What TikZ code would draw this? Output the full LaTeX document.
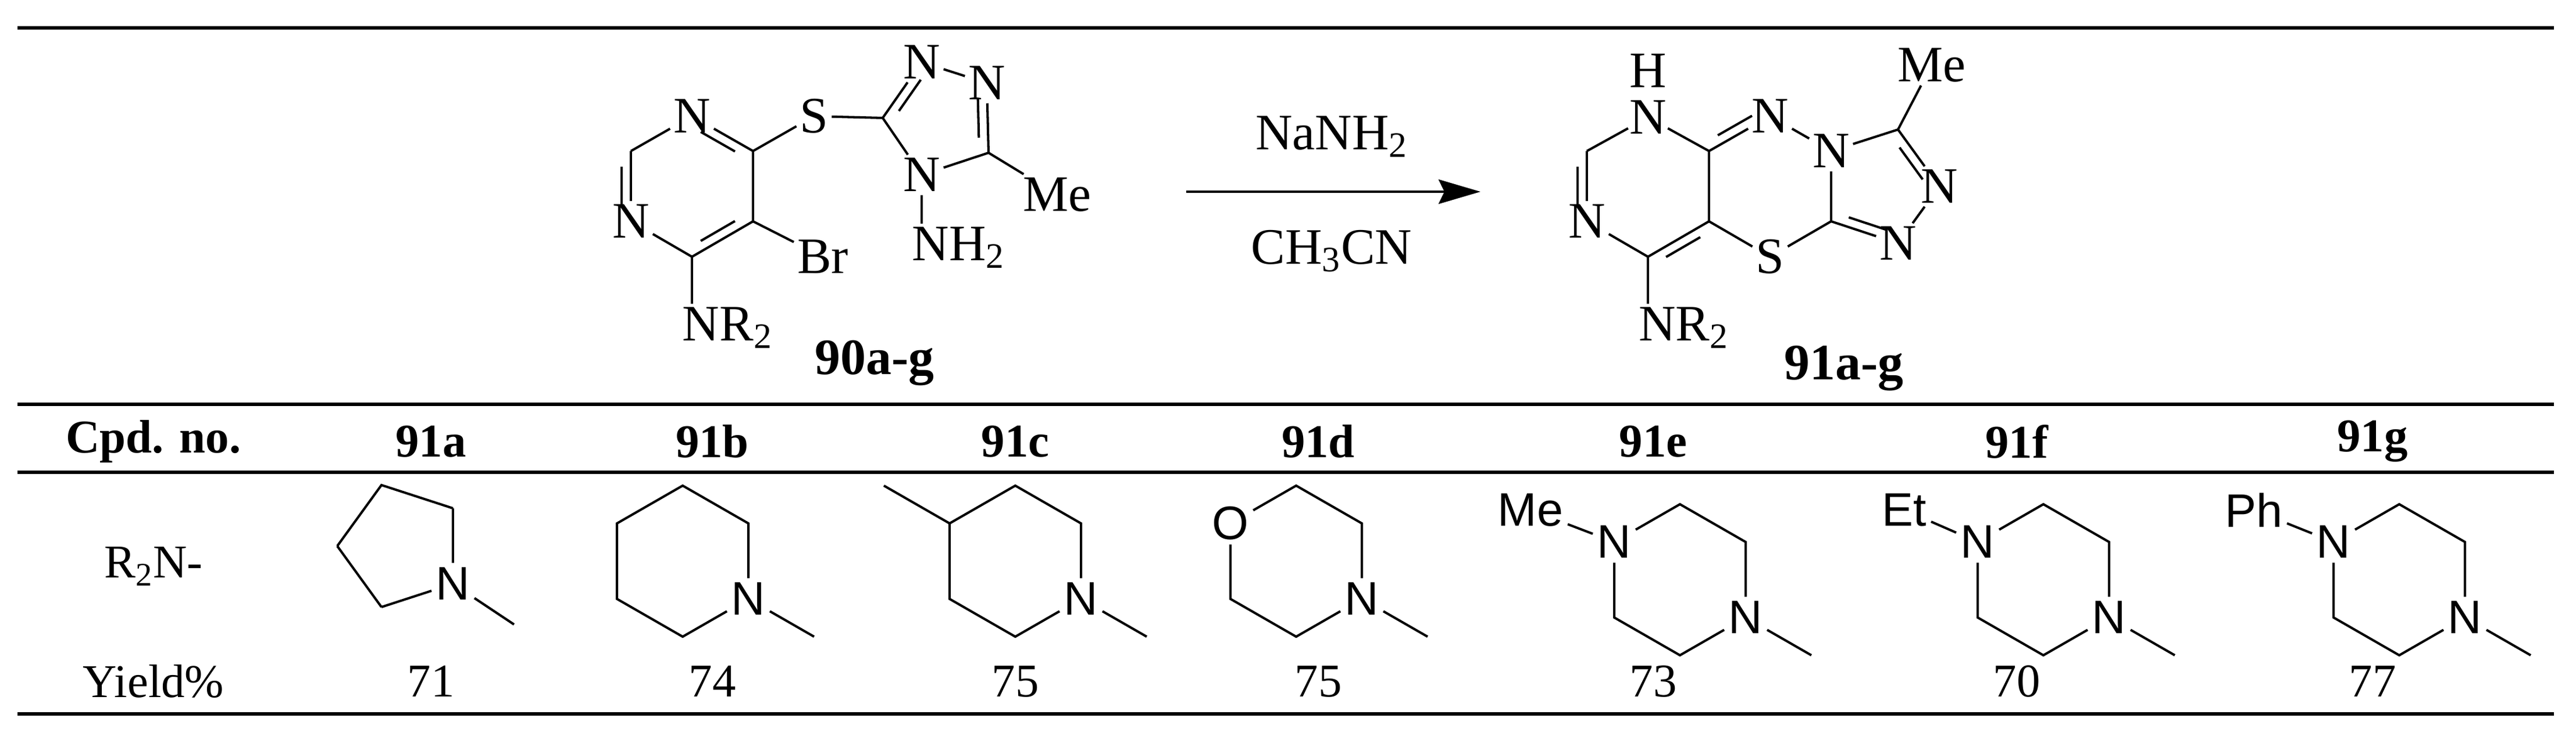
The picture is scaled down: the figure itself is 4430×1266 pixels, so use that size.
\documentclass[tikz,border=0pt]{standalone}
\usepackage{fontspec}
\setmainfont{Liberation Serif}
\newfontfamily\arialf{Liberation Sans}
\usetikzlibrary{calc,arrows.meta}
\newcommand{\dbd}[3]{\draw[bond] ($(#1)!0.22!(#2)!0.16cm!#3:(#2)$) -- ($(#2)!0.22!(#1)!0.16cm!-#3:(#1)$);}
\tikzset{
  bond/.style={line width=1.15pt},
  rulel/.style={line width=1.5pt},
  atm/.style={font=\fontsize{25}{30}\selectfont, inner sep=1.5pt},
  grp/.style={font=\fontsize{25}{30}\selectfont, inner sep=1.5pt, anchor=north west},
  sat/.style={font=\arialf\fontsize{23}{27}\selectfont, inner sep=2pt},
  hdr/.style={font=\bfseries\fontsize{23}{28}\selectfont},
  tx/.style={font=\fontsize{23}{28}\selectfont},
}
\begin{document}
\begin{tikzpicture}[x=0.01cm,y=-0.01cm]
\useasboundingbox (0,0) rectangle (4430,1266);
% rules
\coordinate (r1a) at (30,48); \coordinate (r1b) at (4392,48);
\coordinate (r2a) at (30,696); \coordinate (r2b) at (4392,696);
\coordinate (r3a) at (30,813); \coordinate (r3b) at (4392,813);
\coordinate (r4a) at (30,1229); \coordinate (r4b) at (4392,1229);
\draw[rulel] (r1a)--(r1b); \draw[rulel] (r2a)--(r2b); \draw[rulel] (r3a)--(r3b); \draw[rulel] (r4a)--(r4b);

% ---------- reactant 90 ----------
\coordinate (aC2) at (1085,260);
\node[atm] (aN1) at (1190,200) {N};
\coordinate (aC4) at (1295,260);
\coordinate (aC5) at (1295,381);
\coordinate (aC6) at (1190,442);
\node[atm] (aN3) at (1085,381) {N};
\node[atm] (aS) at (1400,200) {S};
\coordinate (aT3) at (1518,203);
\node[atm] (aTN2) at (1585,107) {N};
\node[atm] (aTN1) at (1697,143) {N};
\coordinate (aT5) at (1700,263);
\node[atm] (aTN4) at (1585,301) {N};
\node[atm] (aMe) at (1818,335) {Me};
\node[grp] (aNH) at (1563,385) {NH\textsubscript{2}};
\node[atm] (aBr) at (1415,442) {Br};
\node[grp] (aNR) at (1168,523) {NR\textsubscript{2}};
\node[font=\bfseries\fontsize{25}{30}\selectfont] (l90) at (1504,625) {90a-g};
\draw[bond] (aC2)--(aN1); \draw[bond] (aN1)--(aC4); \draw[bond] (aC4)--(aC5);
\draw[bond] (aC5)--(aC6); \draw[bond] (aC6)--(aN3); \draw[bond] (aN3)--(aC2);
\dbd{aN1}{aC4}{-90} \dbd{aC5}{aC6}{-90} \dbd{aC2}{aN3}{-90}
\draw[bond] (aC4)--(aS); \draw[bond] (aS)--(aT3);
\draw[bond] (aT3)--(aTN2); \draw[bond] (aTN2)--(aTN1); \draw[bond] (aTN1)--(aT5);
\draw[bond] (aT5)--(aTN4); \draw[bond] (aTN4)--(aT3);
\dbd{aT3}{aTN2}{-90} \dbd{aTN1}{aT5}{-90}
\draw[bond] (aT5)--(aMe); \draw[bond] (aTN4)--(aTN4 |- aNH.north);
\draw[bond] (aC5)--(aBr); \draw[bond] (aC6)--(aC6 |- aNR.north);

% ---------- arrow ----------
\coordinate (ar1) at (2040,330); \coordinate (ar2) at (2546,330);
\draw[bond,-{Stealth[length=0.72cm,width=0.42cm,inset=0.1cm]}] (ar1)--(ar2);
\node[atm] (rg1) at (2290,235) {NaNH\textsubscript{2}};
\node[atm] (rg2) at (2290,432) {CH\textsubscript{3}CN};

% ---------- product 91 ----------
\node[atm,inner sep=0pt] (pH) at (2834,122) {H};
\node[atm,inner sep=0.5pt] (pN8) at (2834,202) {N};
\coordinate (pC7) at (2729,260);
\node[atm] (pN6) at (2729,381) {N};
\coordinate (pC5) at (2834,442);
\coordinate (pC4a) at (2939,381);
\coordinate (pC8a) at (2939,260);
\node[atm] (pNa) at (3044,200) {N};
\node[atm] (pNb) at (3149,260) {N};
\coordinate (pCf) at (3149,381);
\node[atm] (pS) at (3044,442) {S};
\coordinate (pCm) at (3264,223);
\node[atm] (pNc) at (3335,321) {N};
\node[atm] (pNd) at (3264,419) {N};
\node[atm] (pMe) at (3322,112) {Me};
\node[grp] (pNR) at (2812,523) {NR\textsubscript{2}};
\node[font=\bfseries\fontsize{25}{30}\selectfont] (l91) at (3171,634) {91a-g};
\draw[bond] (pN8)--(pC7); \draw[bond] (pC7)--(pN6); \draw[bond] (pN6)--(pC5);
\draw[bond] (pC5)--(pC4a); \draw[bond] (pC4a)--(pC8a); \draw[bond] (pC8a)--(pN8);
\dbd{pC7}{pN6}{-90} \dbd{pC5}{pC4a}{-90}
\draw[bond] (pC8a)--(pNa); \draw[bond] (pNa)--(pNb); \draw[bond] (pNb)--(pCf);
\draw[bond] (pCf)--(pS); \draw[bond] (pS)--(pC4a);
\dbd{pC8a}{pNa}{90}
\draw[bond] (pNb)--(pCm); \draw[bond] (pCm)--(pNc); \draw[bond] (pNc)--(pNd); \draw[bond] (pNd)--(pCf);
\dbd{pCm}{pNc}{-90} \dbd{pNd}{pCf}{-90}
\draw[bond] (pCm)--(pMe); \draw[bond] (pC5)--(pC5 |- pNR.north);

% ---------- table ----------
\node[hdr] (hc) at (264,760) {Cpd. no.};
\node[hdr] (ha) at (741,760) {91a};
\node[hdr] (hb) at (1225,760) {91b};
\node[hdr] (hcc) at (1746,760) {91c};
\node[hdr] (hdd) at (2267,760) {91d};
\node[hdr] (he) at (2843,760) {91e};
\node[hdr] (hf) at (3468,760) {91f};
\node[hdr] (hg) at (4080,760) {91g};
\node[tx] (r2n) at (264,975) {R\textsubscript{2}N-};
\node[tx] (yl) at (264,1173) {Yield\%};
\node[tx] (ya) at (741,1173) {71};
\node[tx] (yb) at (1225,1173) {74};
\node[tx] (yc) at (1746,1173) {75};
\node[tx] (yd) at (2267,1173) {75};
\node[tx] (ye) at (2843,1173) {73};
\node[tx] (yf) at (3468,1173) {70};
\node[tx] (yg) at (4080,1173) {77};

% 91a pyrrolidine
\coordinate (a1) at (580,940); \coordinate (a2) at (656,835); \coordinate (a3) at (779,875);
\node[sat] (aN) at (779,1005) {N}; \coordinate (a5) at (656,1045); \coordinate (aM) at (884,1075);
\draw[bond] (a1)--(a2)--(a3); \draw[bond] (a3)--(aN); \draw[bond] (aN)--(a5); \draw[bond] (a5)--(a1); \draw[bond] (aN)--(aM);

% 6-rings
\foreach \nm/\cx/\cy in {b/1174/966, c/1746/966, d/2229/966, e/2889/998, f/3514/998, g/4126/998} {
  \coordinate (\nm T) at (\cx,\cy-130);
  \coordinate (\nm UR) at (\cx+113,\cy-65);
  \coordinate (\nm LRp) at (\cx+113,\cy+65);
  \coordinate (\nm B) at (\cx,\cy+130);
  \coordinate (\nm LL) at (\cx-113,\cy+65);
  \coordinate (\nm ULp) at (\cx-113,\cy-65);
  \coordinate (\nm M) at (\cx+226,\cy+130);
  \node[sat] (\nm N) at (\nm LRp) {N};
}
% 91b
\draw[bond] (bN)--(bUR)--(bT)--(bULp)--(bLL)--(bB)--(bN); \draw[bond] (bN)--(bM);
% 91c
\coordinate (cMe) at (1520,836);
\draw[bond] (cN)--(cUR)--(cT)--(cULp)--(cLL)--(cB)--(cN); \draw[bond] (cN)--(cM); \draw[bond] (cULp)--(cMe);
% 91d
\node[sat] (dO) at (dULp) {O};
\draw[bond] (dN)--(dUR)--(dT)--(dO); \draw[bond] (dO)--(dLL)--(dB)--(dN); \draw[bond] (dN)--(dM);
% 91e-g
\foreach \nm/\sub in {e/Me, f/Et, g/Ph} {
  \node[sat] (\nm N2) at (\nm ULp) {N};
  \node[sat,anchor=east] (\nm R) at ($(\nm ULp)+(-80,-55)$) {\sub};
  \draw[bond] (\nm N)--(\nm UR)--(\nm T)--(\nm N2); \draw[bond] (\nm N2)--(\nm LL)--(\nm B)--(\nm N);
  \draw[bond] (\nm N)--(\nm M); \draw[bond] (\nm N2)--(\nm R);
}
\end{tikzpicture}
\end{document}
